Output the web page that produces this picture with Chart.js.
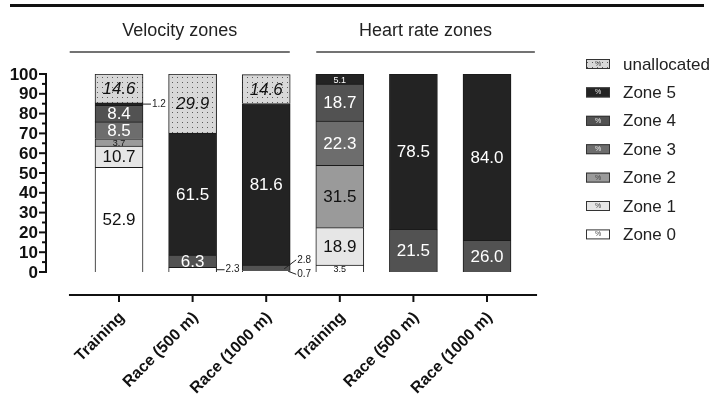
<!DOCTYPE html>
<html><head><meta charset="utf-8">
<script src="https://cdn.jsdelivr.net/npm/chart.js@4"></script>
<style>html,body{margin:0;padding:0;background:#fff}#wrap{width:714px;height:399px;position:relative}</style>
</head><body><div id="wrap"><canvas id="c" width="714" height="399"></canvas></div>
<script>
// ---- data ----
const categories = ['Training', 'Race (500 m)', 'Race (1000 m)', 'Training', 'Race (500 m)', 'Race (1000 m)'];
const groupTitles = ['Velocity zones', 'Heart rate zones'];
const zone0 = [52.9, 2.3, 0.7, 3.5, 0, 0];
const zone1 = [10.7, 0, 0, 18.9, 0, 0];
const zone2 = [3.7, 0, 0, 31.5, 0, 0];
const zone3 = [8.5, 0, 0, 22.3, 0, 0];
const zone4 = [8.4, 6.3, 2.8, 18.7, 21.5, 16.0];
const zone5 = [1.2, 61.5, 81.6, 5.1, 78.5, 84.0];
const unallocated = [14.6, 29.9, 14.6, 0, 0, 0];
const yTickValues = [0, 10, 20, 30, 40, 50, 60, 70, 80, 90, 100];
const yMinorTickValues = [5, 15, 25, 35, 45, 55, 65, 75, 85, 95];
// printed label that differs from drawn height in the original figure
const labelOverrides = [{ series: 'Zone 4', index: 5, text: '26.0' }];

// ---- styles ----
const FONT = "'Liberation Sans', Arial, Helvetica, sans-serif";
const canvas = document.getElementById('c');
const ctx = canvas.getContext('2d');
function dotPattern() {
  const p = document.createElement('canvas'); p.width = 5; p.height = 5;
  const g = p.getContext('2d');
  g.fillStyle = '#d8d8d8'; g.fillRect(0, 0, 5, 5);
  g.fillStyle = '#5a5a5a'; g.fillRect(2, 2, 1, 1);
  return ctx.createPattern(p, 'repeat');
}
const pattern = dotPattern();
const series = [
  { name: 'Zone 0', values: zone0, color: '#ffffff', text: '#111111' },
  { name: 'Zone 1', values: zone1, color: '#e6e6e6', text: '#111111' },
  { name: 'Zone 2', values: zone2, color: '#9a9a9a', text: '#111111' },
  { name: 'Zone 3', values: zone3, color: '#6d6d6d', text: '#ffffff' },
  { name: 'Zone 4', values: zone4, color: '#525252', text: '#ffffff' },
  { name: 'Zone 5', values: zone5, color: '#232323', text: '#ffffff' },
  { name: 'unallocated', values: unallocated, color: pattern, text: '#111111', italic: true }
];
const outsideLabels = [
  { series: 'Zone 5', index: 0, dx1: 0, dy1: 0, dx2: 8, dy2: 0 },
  { series: 'Zone 0', index: 1, dx1: 0, dy1: 0, dx2: 8, dy2: 0 },
  { series: 'Zone 4', index: 2, dx1: -6, dy1: 1, dx2: 6, dy2: -8 },
  { series: 'Zone 0', index: 2, dx1: -2, dy1: 0, dx2: 6, dy2: 3 }
];
const groupSpans = [[-0.67, 2.32], [2.68, 5.65]];

const overlay = {
  id: 'overlay',
  afterDatasetsDraw(chart) {
    const c = chart.ctx;
    chart.data.datasets.forEach((ds, d) => {
      const s = series[d];
      const meta = chart.getDatasetMeta(d);
      s.values.forEach((v, i) => {
        if (!v) return;
        const el = meta.data[i];
        const yc = (el.y + el.base) / 2;
        let txt = v.toFixed(1);
        const ov = labelOverrides.find(o => o.series === s.name && o.index === i);
        if (ov) txt = ov.text;
        const out = outsideLabels.find(o => o.series === s.name && o.index === i);
        c.save();
        if (out) {
          const half = el.width / 2;
          const x1 = el.x + half + out.dx1, y1 = yc + out.dy1;
          const x2 = el.x + half + out.dx2, y2 = yc + out.dy2;
          c.strokeStyle = '#222'; c.lineWidth = 1;
          c.beginPath(); c.moveTo(x1, y1); c.lineTo(x2, y2); c.stroke();
          c.fillStyle = '#222'; c.font = '10px ' + FONT;
          c.textAlign = 'left'; c.textBaseline = 'middle';
          c.fillText(txt, x2 + 1, y2);
        } else {
          const small = v < 6;
          c.fillStyle = s.text;
          c.font = (s.italic ? 'italic ' : '') + (small ? '9px ' : '17px ') + FONT;
          c.textAlign = 'center'; c.textBaseline = 'middle';
          c.fillText(txt, el.x, yc + 1);
        }
        c.restore();
      });
    });
  },
  afterDraw(chart) {
    const c = chart.ctx;
    const xs = chart.scales.x, ys = chart.scales.y;
    c.save();
    // top rule
    c.fillStyle = '#111'; c.fillRect(10, 4, 694, 3);
    // group titles
    c.fillStyle = '#222'; c.strokeStyle = '#444'; c.lineWidth = 1.3;
    c.font = '18px ' + FONT; c.textAlign = 'center'; c.textBaseline = 'middle';
    groupSpans.forEach((sp, g) => {
      const a = xs.getPixelForValue(sp[0]), b = xs.getPixelForValue(sp[1]);
      c.fillText(groupTitles[g], (a + b) / 2, 31);
      c.beginPath(); c.moveTo(a, 52); c.lineTo(b, 52); c.stroke();
    });
    // y axis
    const ax = chart.chartArea.left;
    c.strokeStyle = '#111'; c.lineWidth = 2;
    c.beginPath(); c.moveTo(ax, ys.getPixelForValue(0) + 1); c.lineTo(ax, ys.getPixelForValue(100) - 1); c.stroke();
    c.font = 'bold 17px ' + FONT; c.textAlign = 'right'; c.textBaseline = 'middle'; c.fillStyle = '#111';
    yTickValues.forEach(v => {
      const y = ys.getPixelForValue(v);
      c.beginPath(); c.moveTo(ax - 7, y); c.lineTo(ax, y); c.stroke();
      c.fillText(String(v), ax - 8, y + 1);
    });
    yMinorTickValues.forEach(v => {
      const y = ys.getPixelForValue(v);
      c.beginPath(); c.moveTo(ax - 4, y); c.lineTo(ax, y); c.stroke();
    });
    // x axis
    const ay = chart.chartArea.bottom;
    c.beginPath(); c.moveTo(xs.getPixelForValue(-0.68), ay); c.lineTo(xs.getPixelForValue(5.68), ay); c.stroke();
    c.font = 'bold 16px ' + FONT; c.textAlign = 'right'; c.textBaseline = 'middle';
    categories.forEach((lab, i) => {
      const x = xs.getPixelForValue(i);
      c.beginPath(); c.moveTo(x, ay); c.lineTo(x, ay + 7); c.stroke();
      c.save(); c.translate(x + 3, ay + 20); c.rotate(-Math.PI / 4);
      c.fillText(lab, 0, 0); c.restore();
    });
    // legend
    const items = series.slice().reverse();
    items.forEach((s, k) => {
      const y = 64 + k * 28.4;
      c.fillStyle = s.color; c.fillRect(586, y - 5, 24, 10);
      c.strokeStyle = '#333'; c.lineWidth = 1; c.strokeRect(586.5, y - 4.5, 23, 9);
      c.fillStyle = (s.name === 'Zone 3' || s.name === 'Zone 4' || s.name === 'Zone 5') ? '#eee' : '#444';
      c.font = '7px ' + FONT; c.textAlign = 'center'; c.textBaseline = 'middle';
      c.fillText('%', 598, y);
      c.fillStyle = '#222'; c.font = '17px ' + FONT; c.textAlign = 'left';
      c.fillText(s.name, 623, y + 1);
    });
    c.restore();
  }
};

new Chart(canvas, {
  type: 'bar',
  data: {
    datasets: series.map(s => ({
      label: s.name,
      data: s.values.map((v, i) => ({ x: i, y: v > 0 ? v : null })),
      backgroundColor: s.color,
      borderColor: '#1a1a1a',
      borderWidth: 1,
      barThickness: 48
    }))
  },
  options: {
    responsive: false,
    animation: false,
    events: [],
    layout: { padding: { left: 46, right: 169, top: 74, bottom: 104 } },
    scales: {
      x: { type: 'linear', min: -0.992, max: 5.788, stacked: true, display: false, offset: false },
      y: { stacked: true, min: -11.616, max: 100, display: false }
    },
    plugins: { legend: { display: false }, tooltip: { enabled: false } }
  },
  plugins: [overlay]
});
</script>
</body></html>
